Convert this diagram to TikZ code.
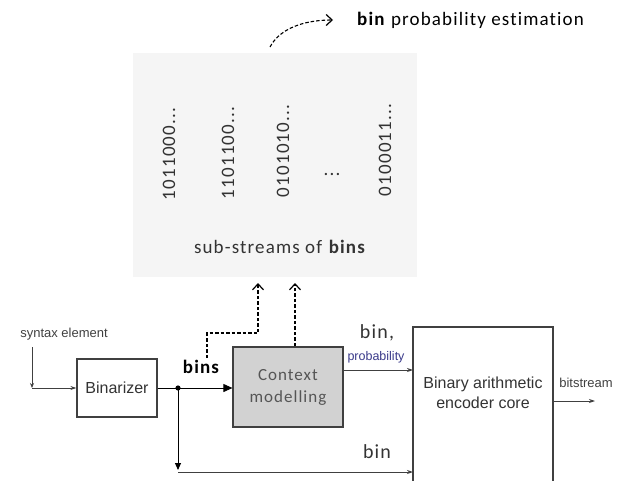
\documentclass[tikz,border=0pt]{standalone}
\usepackage{fontspec}
\setmainfont{Carlito}[Ligatures=NoCommon]
\newfontfamily\spc[LetterSpace=6,Ligatures=NoCommon]{Carlito}
\newfontfamily\arialf{Liberation Sans}
\usetikzlibrary{arrows.meta}
\definecolor{panelbg}{HTML}{F5F5F5}
\definecolor{ctxfill}{HTML}{D2D2D2}
\definecolor{linec}{HTML}{404040}
\definecolor{txtc}{HTML}{333333}
\definecolor{ctxtxt}{HTML}{555555}
\definecolor{probc}{HTML}{3A3A8A}
\tikzset{
  blk/.style={draw=linec, line width=1.2pt, inner sep=0pt},
  conn/.style={draw=linec, line width=0.9pt, -{Stealth[length=6pt,width=4pt]}},
  bigarrow/.style={draw=black, line width=0.9pt, -{Triangle[length=9pt,width=8pt]}},
  dsh/.style={draw=black, line width=1.1pt, dash pattern=on 3.5pt off 2pt, -{Straight Barb[length=6pt,width=11pt,line width=1.2pt]}},
  bits/.style={rotate=90, font=\spc\fontsize{19}{19}\selectfont, text=txtc, inner sep=0pt},
}
\begin{document}
\begin{tikzpicture}[x=1pt,y=-1pt]
\useasboundingbox (0,0) rectangle (626,481);
% panel
\fill[panelbg] (133,53) rectangle (417,277);
\node[bits] (s1) at (169,154) {1011000...};
\node[bits] (s2) at (228,153) {1101100...};
\node[bits] (s3) at (283,151) {0101010...};
\node[font=\spc\fontsize{19}{19}\selectfont, text=txtc, inner sep=0pt] (s4) at (332,174) {...};
\node[bits] (s5) at (385,150) {0100011...};
\node[font=\spc\fontsize{19}{19}\selectfont, text=txtc, inner sep=0pt] (sub) at (280,247) {sub-streams of \textbf{bins}};
% top label
\node[font=\spc\fontsize{19}{19}\selectfont, anchor=west, inner sep=0pt] (est) at (357,20) {\textbf{bin} probability estimation};
\coordinate (cs) at (270,47);
\coordinate (ce) at (333,20);
\draw[dsh] (cs) .. controls (280,28) and (305,20) .. (ce);
% blocks
\node[blk, minimum width=80pt, minimum height=58pt, font=\arialf\fontsize{16}{16}\selectfont, text=txtc] (bin) at (117,388) {Binarizer};
\node[blk, fill=ctxfill, minimum width=110pt, minimum height=80pt, align=center, font=\spc\fontsize{17}{22}\selectfont, text=ctxtxt] (ctx) at (288,387) {Context\\modelling};
\coordinate (encTL) at (413,327);
\coordinate (encTR) at (553,327);
\coordinate (encBL) at (413,486);
\coordinate (encBR) at (553,486);
\draw[linec, line width=1.2pt] (encBL) -- (encTL) -- (encTR) -- (encBR);
\node[align=center, font=\arialf\fontsize{16}{20}\selectfont, text=txtc, inner sep=0pt] (enc) at (483,393) {Binary arithmetic\\encoder core};
% syntax element
\node[font=\arialf\fontsize{13}{13}\selectfont, text=linec, inner sep=0pt] (syn) at (64,334) {syntax element};
\coordinate (synA) at (32,347);
\coordinate (synB) at (32,388);
\draw[linec, line width=0.9pt, -{Stealth[length=5pt,width=4pt]}] (synA) -- (synB);
\draw[conn] (synB) -- (bin.west);
% bins to context
\coordinate (dot) at (178,388);
\draw[bigarrow] (bin.east) -- (ctx.west |- dot);
\fill (dot) circle (2.6pt);
\node[font=\spc\fontsize{19}{19}\selectfont\bfseries, inner sep=0pt] (binsl) at (201,367) {bins};
% bypass bin
\coordinate (byD) at (178,470);
\coordinate (byS) at (178,472);
\draw[draw=black, line width=0.9pt, -{Triangle[length=7pt,width=6pt]}] (dot) -- (byD);
\draw[conn] (byS) -- (encTL |- byS);
\node[font=\spc\fontsize{20}{20}\selectfont, inner sep=0pt, text=txtc] (binl) at (377,452) {bin};
% context to encoder
\coordinate (ctxo) at (343,370);
\draw[conn] (ctxo) -- (encTL |- ctxo);
\node[font=\spc\fontsize{20}{20}\selectfont, inner sep=0pt, text=txtc] (binc) at (377,333) {bin,};
\node[font=\arialf\fontsize{12.5}{13}\selectfont, inner sep=0pt, text=probc] (prob) at (376,357) {probability};
% dashed feedback
\coordinate (d1) at (207,358);
\coordinate (d2) at (207,333);
\coordinate (d3) at (258,333);
\coordinate (d4) at (258,283);
\draw[dsh] (d1) -- (d2) -- (d3) -- (d4);
\coordinate (e4) at (295,283);
\draw[dsh] (ctx.north -| e4) -- (e4);
% bitstream
\coordinate (bso) at (595,401);
\draw[conn] (encTR |- bso) -- (bso);
\node[font=\arialf\fontsize{13}{13}\selectfont, inner sep=0pt, text=linec] (bs) at (586,383) {bitstream};
\end{tikzpicture}
\end{document}
